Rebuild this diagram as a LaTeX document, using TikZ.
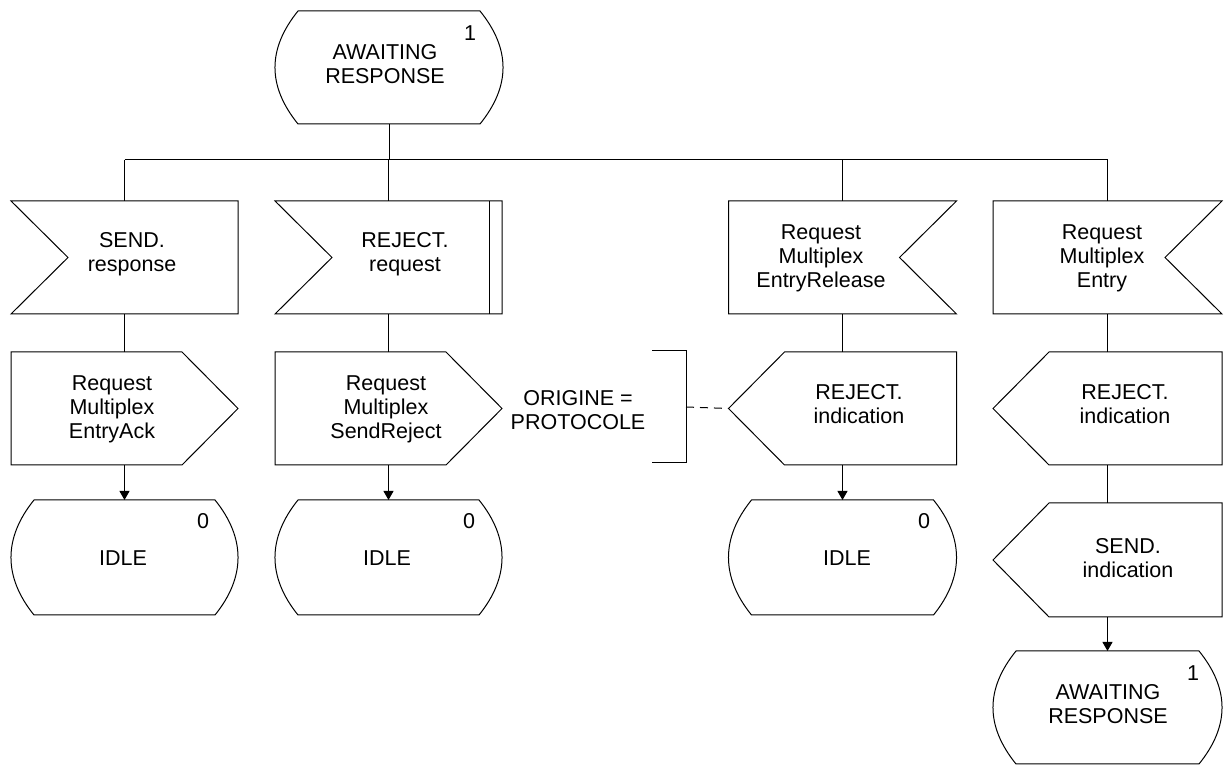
\documentclass[tikz,border=0pt]{standalone}
\usepackage{fontspec}
\setmainfont{Liberation Sans}
\usetikzlibrary{arrows.meta,calc}
\tikzset{
  shp/.style={draw=none, rectangle, minimum width=228pt, minimum height=114pt, inner sep=0pt, outer sep=0pt},
  txt/.style={font=\fontsize{21.5}{24}\selectfont, align=center, inner sep=0pt},
  ln/.style={line width=1pt, line join=miter},
  arr/.style={ln, -{Triangle[length=9pt,width=10pt]}},
  cmtline/.style={ln, dash pattern=on 8pt off 6pt},
}
% state symbol outline
\newcommand\drawstate[1]{%
  \draw[ln] ([xshift=23pt]#1.north west) -- ([xshift=-23pt]#1.north east)
    .. controls ([xshift=7.7pt,yshift=-38pt]#1.north east) and ([xshift=7.7pt,yshift=38pt]#1.south east) .. ([xshift=-23pt]#1.south east)
    -- ([xshift=23pt]#1.south west)
    .. controls ([xshift=-7.7pt,yshift=38pt]#1.south west) and ([xshift=-7.7pt,yshift=-38pt]#1.north west) .. ([xshift=23pt]#1.north west) -- cycle;}
% input signal, notch on the left
\newcommand\drawinleft[1]{%
  \draw[ln] (#1.north west) -- (#1.north east) -- (#1.south east) -- (#1.south west) -- ([xshift=57pt]#1.west) -- cycle;}
% input signal, notch on the right
\newcommand\drawinright[1]{%
  \draw[ln] (#1.north west) -- (#1.north east) -- ([xshift=-57pt]#1.east) -- (#1.south east) -- (#1.south west) -- cycle;}
% output signal pointing right
\newcommand\drawoutright[1]{%
  \draw[ln] (#1.north west) -- ([xshift=-56pt]#1.north east) -- (#1.east) -- ([xshift=-56pt]#1.south east) -- (#1.south west) -- cycle;}
% output signal pointing left
\newcommand\drawoutleft[1]{%
  \draw[ln] ([xshift=56pt]#1.north west) -- (#1.north east) -- (#1.south east) -- ([xshift=56pt]#1.south west) -- (#1.west) -- cycle;}
\begin{document}
\begin{tikzpicture}[x=1pt,y=1pt]
\useasboundingbox (0,0) rectangle (1224,765);

% ---------- shapes (positions) ----------
\node[shp, minimum height=113pt] (s0) at (389,697.5) {};
\node[shp, minimum width=227pt, minimum height=113pt] (in1) at (124.5,507.5) {};
\node[shp, minimum width=227pt, minimum height=113pt] (in2) at (388.5,507.5) {};
\node[shp, minimum height=113pt] (in3) at (842.5,507.5) {};
\node[shp, minimum width=229pt, minimum height=113pt] (in4) at (1107.5,507.5) {};

\node[shp, minimum width=227pt, minimum height=113pt] (out1) at (124.5,356.5) {};
\node[shp, minimum width=227pt, minimum height=113pt] (out2) at (388.5,356.5) {};
\node[shp, minimum height=113pt] (out3) at (842.5,356.5) {};
\node[shp, minimum width=229pt, minimum height=113pt] (out4) at (1107.5,356.5) {};

\node[shp, minimum width=227pt, minimum height=115pt] (idle1) at (124.5,207.5) {};
\node[shp, minimum width=227pt, minimum height=115pt] (idle2) at (388.5,207.5) {};
\node[shp, minimum height=115pt] (idle3) at (842.5,207.5) {};
\node[shp, minimum width=229pt, minimum height=114pt] (sendind) at (1107.5,205) {};
\node[shp, minimum width=229pt, minimum height=113pt] (s1) at (1107.5,57.5) {};

% ---------- outlines ----------
\drawstate{s0}
\drawinleft{in1}
\drawinleft{in2}
\draw[ln] ([xshift=-13pt]in2.north east) -- ([xshift=-13pt]in2.south east);
\drawinright{in3}
\drawinright{in4}
\drawoutright{out1}
\drawoutright{out2}
\drawoutleft{out3}
\drawoutleft{out4}
\drawstate{idle1}
\drawstate{idle2}
\drawstate{idle3}
\drawoutleft{sendind}
\drawstate{s1}

% ---------- texts ----------
\node[txt] (t-s0) at (385,701) {AWAITING\\RESPONSE};
\node[txt] (n-s0) at (470,732) {1};
\node[txt] (t-in1) at (132,511) {SEND.\\response};
\node[txt] (t-in2) at (405,511) {REJECT.\\request};
\node[txt] (t-in3) at (821,507) {Request\\Multiplex\\EntryRelease};
\node[txt] (t-in4) at (1102,507) {Request\\Multiplex\\Entry};
\node[txt] (t-out1) at (112,356) {Request\\Multiplex\\EntryAck};
\node[txt] (t-out2) at (386,356) {Request\\Multiplex\\SendReject};
\node[txt] (t-out3) at (859,361) {REJECT.\\indication};
\node[txt] (t-out4) at (1125,361) {REJECT.\\indication};
\node[txt] (t-idle1) at (123,207) {IDLE};
\node[txt] (n-idle1) at (203,244) {0};
\node[txt] (t-idle2) at (387,207) {IDLE};
\node[txt] (n-idle2) at (469,244) {0};
\node[txt] (t-idle3) at (847,207) {IDLE};
\node[txt] (n-idle3) at (924,244) {0};
\node[txt] (t-sendind) at (1128,207) {SEND.\\indication};
\node[txt] (t-s1) at (1108,61) {AWAITING\\RESPONSE};
\node[txt] (n-s1) at (1193,92) {1};

% ---------- comment ----------
\node[txt] (cmt) at (578,355) {ORIGINE =\\PROTOCOLE};
\node[shp, minimum width=34pt, minimum height=112pt] (brk) at (669,358) {};
\draw[ln] (brk.north west) -- (brk.north east) -- (brk.south east) -- (brk.south west);
\draw[cmtline] (brk.east) -- (out3.west);

% ---------- connectors ----------
\coordinate (br) at (389,605);
\coordinate (b1) at (in1.north |- br);
\coordinate (b4) at (in4.north |- br);
\draw[ln] (s0.south) -- (br);
\draw[ln] (b1) -- (b4);
\draw[ln] (b1) -- (in1.north);
\draw[ln] (in2.north |- br) -- (in2.north);
\draw[ln] (in3.north |- br) -- (in3.north);
\draw[ln] (b4) -- (in4.north);

\draw[ln] (in1.south) -- (out1.north);
\draw[ln] (in2.south) -- (out2.north);
\draw[ln] (in3.south) -- (out3.north);
\draw[ln] (in4.south) -- (out4.north);

\draw[arr] (out1.south) -- (idle1.north);
\draw[arr] (out2.south) -- (idle2.north);
\draw[arr] (out3.south) -- (idle3.north);
\draw[ln] (out4.south) -- (sendind.north);
\draw[arr] (sendind.south) -- (s1.north);
\end{tikzpicture}
\end{document}
